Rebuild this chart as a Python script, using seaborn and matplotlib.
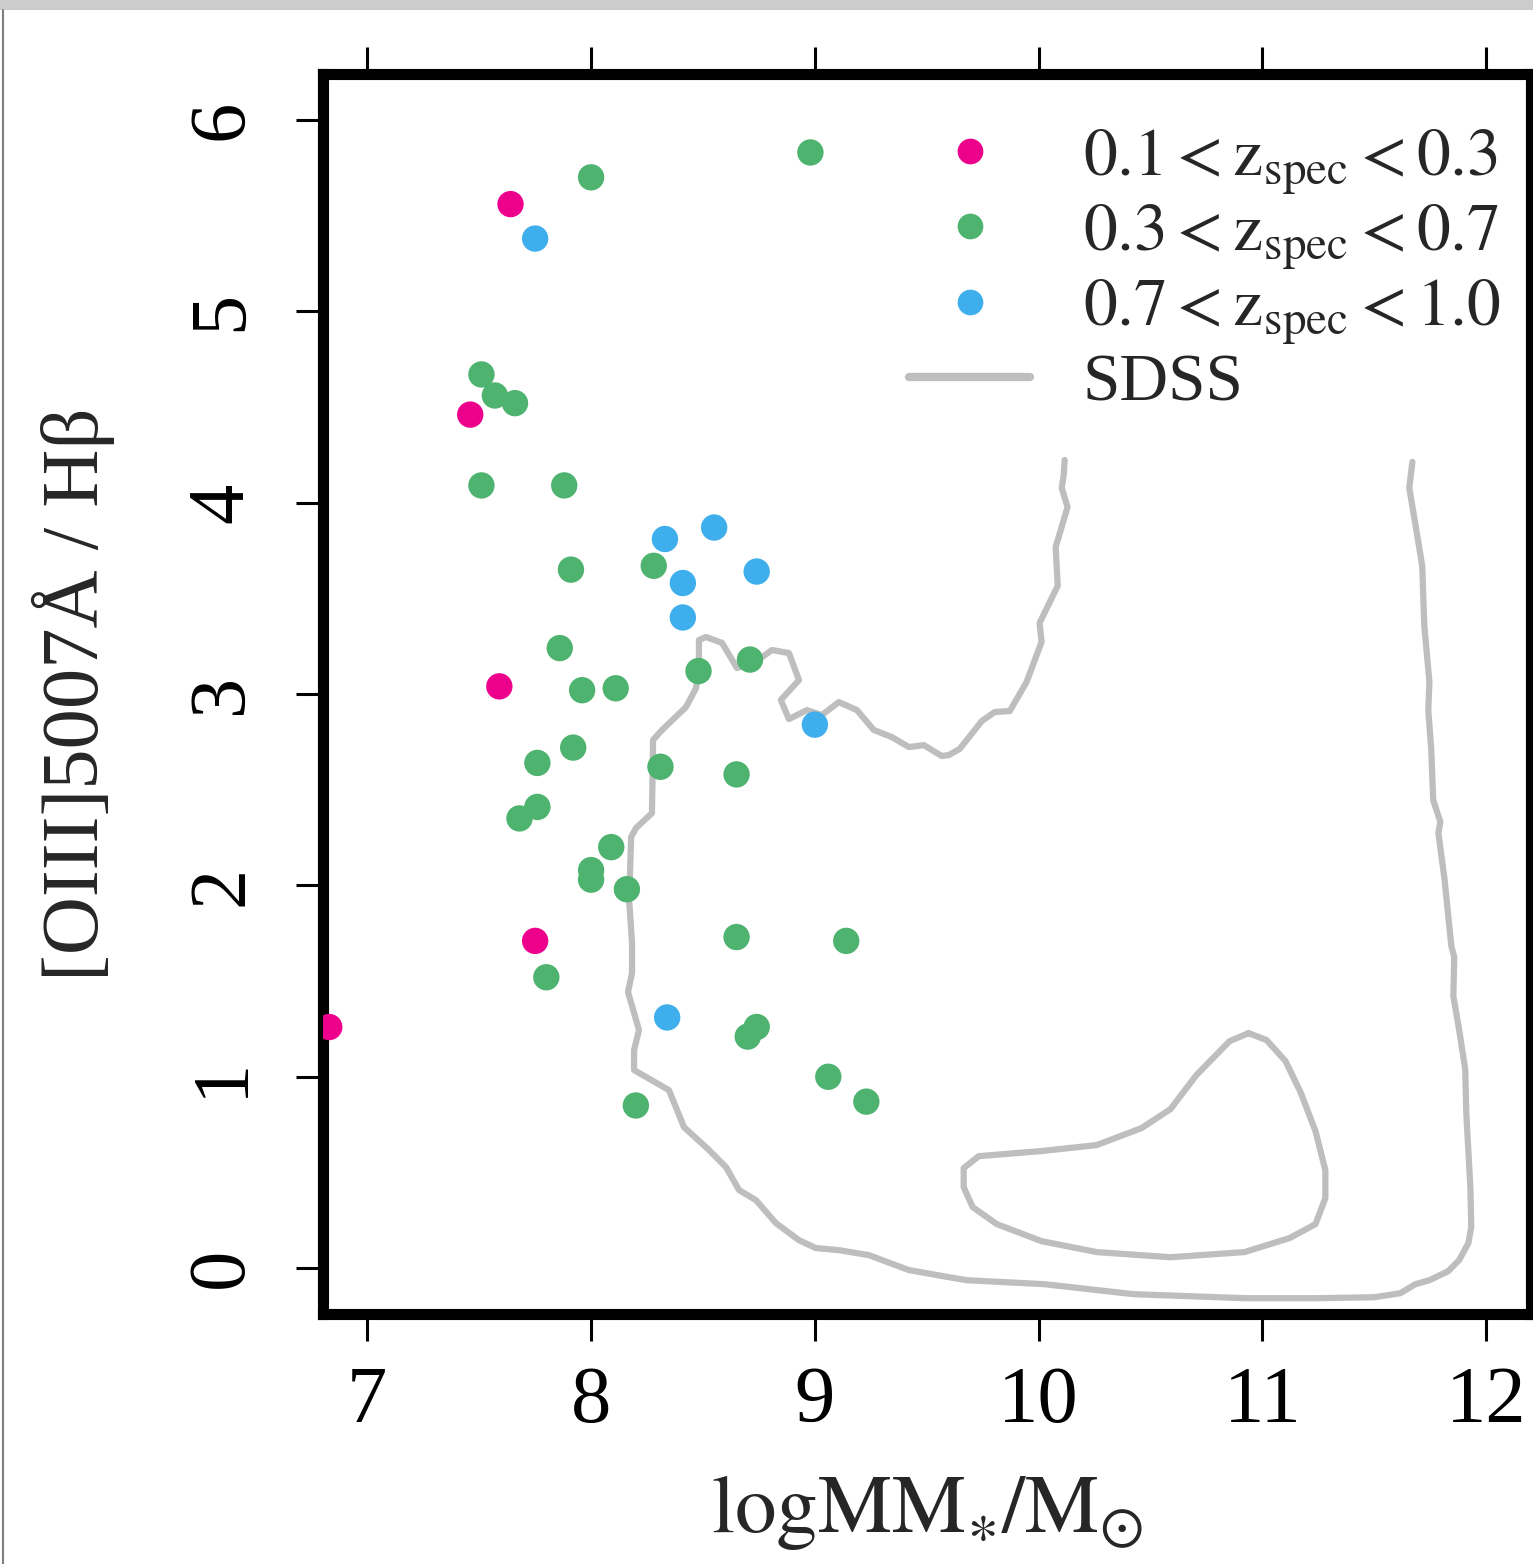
import numpy as np
import pandas as pd
import matplotlib
matplotlib.use("Agg")
import matplotlib.pyplot as plt
from matplotlib.patches import Rectangle
from matplotlib.lines import Line2D
import seaborn as sns

# ---- emission-line galaxies, split by spectroscopic redshift ----
low_z_mass = [7.64, 7.46, 7.59, 7.75, 6.83]
low_z_ratio = [5.56, 4.46, 3.04, 1.71, 1.26]

mid_z_mass = [8.98, 8.00, 7.51, 7.57, 7.66, 7.51, 7.88, 7.91, 8.28, 7.86,
              7.96, 8.11, 8.48, 8.71, 7.92, 7.76, 7.76, 7.68, 8.31, 8.65,
              8.09, 8.00, 8.00, 8.16, 8.65, 9.14, 7.80, 8.74, 8.70, 9.06,
              9.23, 8.20]
mid_z_ratio = [5.83, 5.70, 4.67, 4.56, 4.52, 4.09, 4.09, 3.65, 3.67, 3.24,
               3.02, 3.03, 3.12, 3.18, 2.72, 2.64, 2.41, 2.35, 2.62, 2.58,
               2.20, 2.08, 2.03, 1.98, 1.73, 1.71, 1.52, 1.26, 1.21, 1.00,
               0.87, 0.85]

high_z_mass = [7.75, 8.33, 8.55, 8.41, 8.41, 8.74, 9.00, 8.34]
high_z_ratio = [5.38, 3.81, 3.87, 3.58, 3.40, 3.64, 2.84, 1.31]

group_labels = [r"$0.1 < \mathrm{z}_{\mathrm{spec}} < 0.3$",
                r"$0.3 < \mathrm{z}_{\mathrm{spec}} < 0.7$",
                r"$0.7 < \mathrm{z}_{\mathrm{spec}} < 1.0$"]
group_colors = ["#EC008C", "#4DB36E", "#3FAEEC"]

# ---- SDSS density contours (outer open level, inner closed level) ----
sdss_outer_mass = [10.116, 10.112, 10.103, 10.129, 10.076, 10.085, 10.004, 10.013,
                   9.946, 9.871, 9.804, 9.746, 9.647, 9.598, 9.567, 9.487, 9.420,
                   9.344, 9.263, 9.188, 9.107, 9.031, 8.964, 8.884, 8.848, 8.929,
                   8.884, 8.808, 8.728, 8.652, 8.585, 8.513, 8.482, 8.482, 8.469,
                   8.424, 8.317, 8.277, 8.272, 8.201, 8.179, 8.170, 8.183, 8.183,
                   8.165, 8.214, 8.192, 8.192, 8.348, 8.415, 8.527, 8.603, 8.661,
                   8.737, 8.826, 8.929, 9.004, 9.107, 9.241, 9.420, 9.598, 9.679,
                   10.027, 10.424, 10.920, 11.250, 11.500, 11.616, 11.683, 11.746,
                   11.830, 11.879, 11.920, 11.933, 11.929, 11.911, 11.906, 11.879,
                   11.853, 11.857, 11.844, 11.813, 11.786, 11.795, 11.763, 11.754,
                   11.741, 11.746, 11.723, 11.714, 11.683, 11.656, 11.670]
sdss_outer_ratio = [4.223, 4.145, 4.077, 3.977, 3.768, 3.565, 3.371, 3.272,
                    3.063, 2.911, 2.906, 2.859, 2.713, 2.681, 2.676, 2.733, 2.723,
                    2.775, 2.812, 2.916, 2.958, 2.890, 2.916, 2.869, 2.969, 3.073,
                    3.214, 3.230, 3.162, 3.136, 3.267, 3.298, 3.282, 3.141, 3.031,
                    2.932, 2.812, 2.760, 2.378, 2.300, 2.253, 1.923, 1.699, 1.542,
                    1.443, 1.244, 1.139, 1.035, 0.930, 0.737, 0.617, 0.528, 0.408,
                    0.355, 0.235, 0.146, 0.105, 0.094, 0.068, -0.010, -0.047, -0.063,
                    -0.084, -0.136, -0.157, -0.157, -0.152, -0.131, -0.084, -0.063,
                    -0.016, 0.042, 0.131, 0.214, 0.423, 0.805, 1.040, 1.244,
                    1.422, 1.625, 1.683, 2.038, 2.274, 2.331, 2.446, 2.713,
                    2.916, 3.063, 3.361, 3.669, 3.889, 4.077, 4.213]

sdss_inner_mass = [10.938, 10.853, 10.705, 10.589, 10.460, 10.259, 10.013, 9.732,
                   9.665, 9.665, 9.705, 9.813, 10.013, 10.259, 10.589, 10.920,
                   11.121, 11.237, 11.281, 11.281, 11.237, 11.170, 11.103, 11.018,
                   10.938]
sdss_inner_ratio = [1.228, 1.186, 1.009, 0.831, 0.732, 0.643, 0.612, 0.585,
                    0.523, 0.423, 0.319, 0.230, 0.141, 0.084, 0.057, 0.084,
                    0.157, 0.230, 0.366, 0.512, 0.716, 0.920, 1.082, 1.192,
                    1.228]
sdss_color = "#BEBEBE"

x_ticks = [7, 8, 9, 10, 11, 12]
y_ticks = [0, 1, 2, 3, 4, 5, 6]

# ---- styling ----
sns.set_style("ticks")
plt.rcParams["font.family"] = ["Liberation Serif", "DejaVu Serif"]
plt.rcParams["mathtext.fontset"] = "stix"

fig = plt.figure(figsize=(15.33, 15.64), dpi=100)
ax = fig.add_axes([0.2104, 0.1598, 0.9987 - 0.2104, 0.9527 - 0.1598])

points = pd.DataFrame({
    "mass": low_z_mass + mid_z_mass + high_z_mass,
    "ratio": low_z_ratio + mid_z_ratio + high_z_ratio,
    "group": [group_labels[0]] * len(low_z_mass)
             + [group_labels[1]] * len(mid_z_mass)
             + [group_labels[2]] * len(high_z_mass),
})

sns.lineplot(x=sdss_outer_mass, y=sdss_outer_ratio, sort=False, estimator=None,
             color=sdss_color, lw=4.5, ax=ax, zorder=1)
sns.lineplot(x=sdss_inner_mass, y=sdss_inner_ratio, sort=False, estimator=None,
             color=sdss_color, lw=4.5, ax=ax, zorder=1)

sns.scatterplot(data=points, x="mass", y="ratio", hue="group",
                hue_order=group_labels, palette=group_colors,
                s=360, linewidth=0, ax=ax, legend=False, zorder=3)

ax.set_xlim(6.8, 12.2)
ax.set_ylim(-0.24, 6.24)
ax.set_xticks(x_ticks)
ax.set_yticks(y_ticks)
ax.set_xticklabels([str(v) for v in x_ticks])
ax.set_yticklabels([str(v) for v in y_ticks])

for side in ["left", "right", "top", "bottom"]:
    ax.spines[side].set_visible(True)
    ax.spines[side].set_linewidth(8)
    ax.spines[side].set_color("black")

ax.tick_params(axis="both", which="major", direction="out", length=19.5,
               width=2.2, labelsize=58, colors="black", top=True,
               labeltop=False, right=False)
ax.tick_params(axis="x", pad=18)
ax.tick_params(axis="y", pad=26, labelrotation=90)
for lab in ax.get_yticklabels():
    lab.set_verticalalignment("center")

ax.set_xlabel(r"$\mathrm{logMM}_{\ast}/\mathrm{M}_{\odot}$", fontsize=60)
ax.set_ylabel("[OIII]5007Å / Hβ", fontsize=58)
ax.xaxis.set_label_coords(0.5, -0.128)
ax.yaxis.set_label_coords(-0.172, 0.5)

handles = [Line2D([], [], ls="none", marker="o", markersize=18.5,
                  markerfacecolor=c, markeredgewidth=0) for c in group_colors]
handles.append(Line2D([], [], color=sdss_color, lw=6, solid_capstyle="round"))
ax.legend(handles, group_labels + ["SDSS"], loc="upper right",
          bbox_to_anchor=(0.975, 0.957), frameon=False, fontsize=48.5,
          handlelength=1.8, handletextpad=0.78, labelspacing=0.1,
          borderpad=0, borderaxespad=0)

# surrounding page elements
fig.add_artist(Rectangle((0, 1 - 10 / 1564), 1, 10 / 1564, transform=fig.transFigure,
                         facecolor="#CCCCCC", edgecolor="none"))
fig.add_artist(Line2D([3 / 1533, 3 / 1533], [0, 1 - 10 / 1564], transform=fig.transFigure,
                      color="#7F7F7F", lw=1.5))

fig.savefig("out.png", dpi=100)
